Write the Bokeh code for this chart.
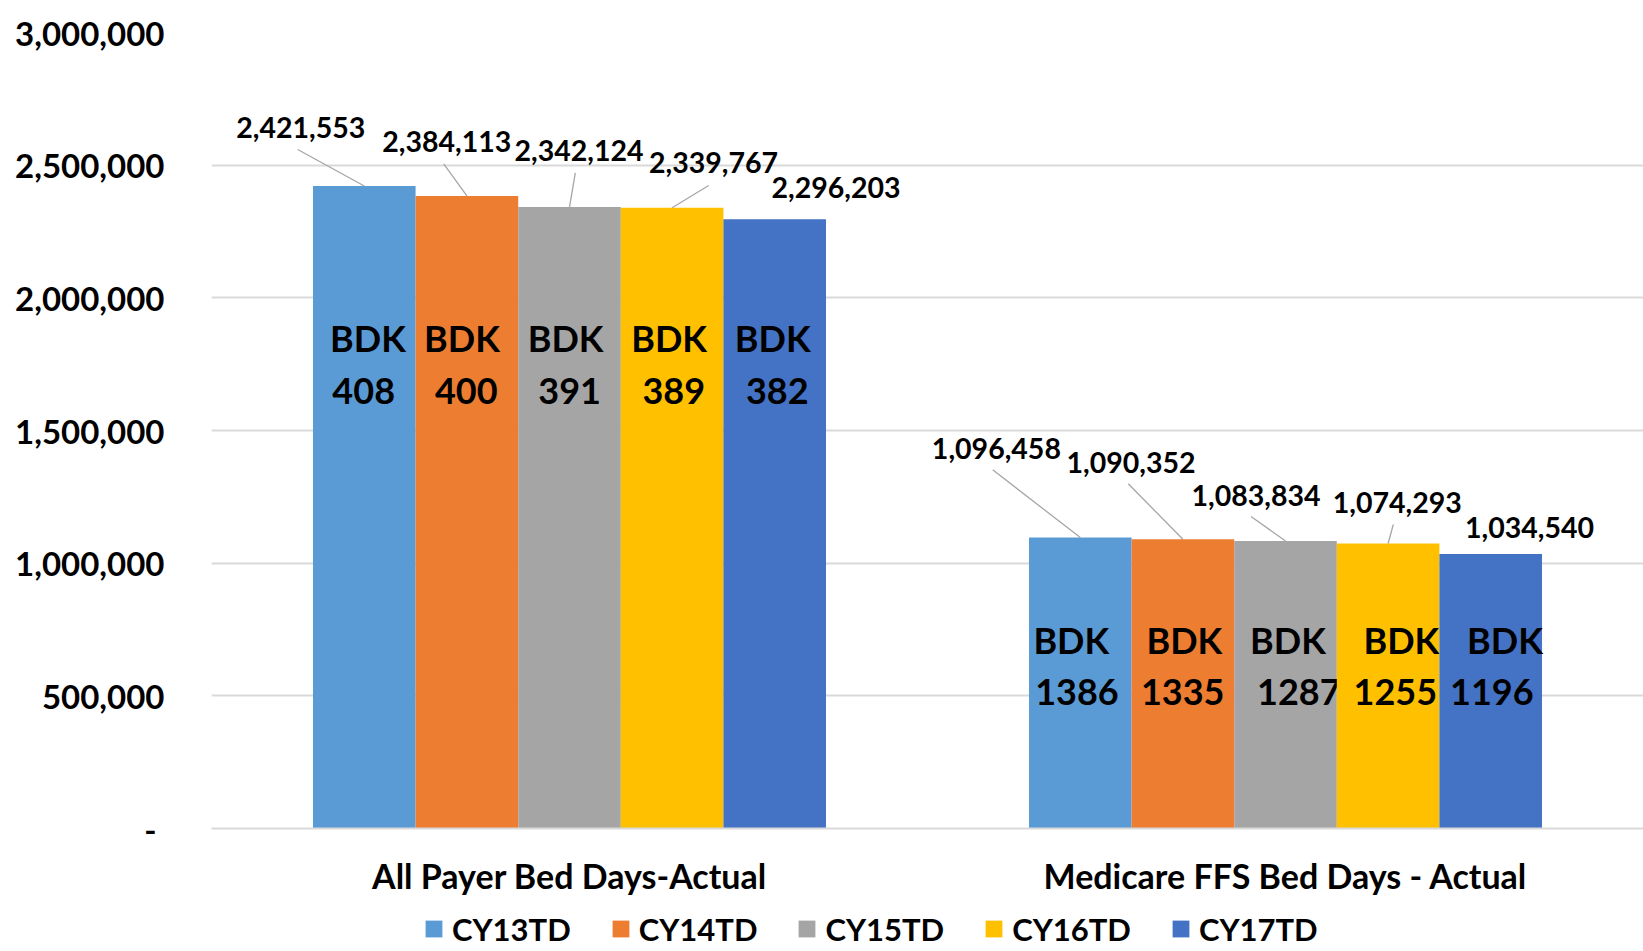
from bokeh.plotting import figure
from bokeh.layouts import column
from bokeh.models import (ColumnDataSource, FactorRange, Range1d, FixedTicker,
                          CustomJSTickFormatter, Legend, LegendItem)
from bokeh.transform import dodge
from bokeh.core.properties import value
from bokeh.embed import file_html
from bokeh.resources import INLINE

# ---------------- data ----------------
categories = ["All Payer Bed Days-Actual", "Medicare FFS Bed Days - Actual"]
series = ["CY13TD", "CY14TD", "CY15TD", "CY16TD", "CY17TD"]
cy13td = [2421553, 1096458]
cy14td = [2384113, 1090352]
cy15td = [2342124, 1083834]
cy16td = [2339767, 1074293]
cy17td = [2296203, 1034540]
bdk13 = [408, 1386]
bdk14 = [400, 1335]
bdk15 = [391, 1287]
bdk16 = [389, 1255]
bdk17 = [382, 1196]
y_ticks = [0, 500000, 1000000, 1500000, 2000000, 2500000, 3000000]

values = [cy13td, cy14td, cy15td, cy16td, cy17td]
bdks = [bdk13, bdk14, bdk15, bdk16, bdk17]

# ---------------- style / layout ----------------
colors = ["#5B9BD5", "#ED7D31", "#A5A5A5", "#FFC000", "#4472C4"]
FONT = "Lato"
W = 1643
H_MAIN, H_LEG = 904, 47
BL, BT = 211, 32
FRAME_H = 796
BB = H_MAIN - BT - FRAME_H
FRAME_W = W - BL
Y_MAX = 3000000
UX = len(categories) / FRAME_W        # x units per pixel
UY = Y_MAX / FRAME_H                  # y units per pixel
BW = 0.1433                           # bar width (category units)

# data-label offsets from bar-top centre in px: [category][series] -> (dx, up)
lbl_off = [
    [(-63.5, 58.8), (-20.1, 54.0), (9.6, 56.5), (41.5, 45.5), (61.4, 32.0)],
    [(-83.9, 88.8), (-51.8, 77.0), (-29.5, 45.4), (9.1, 41.3), (38.9, 26.8)],
]
# leader-line start offsets (px) from bar-top centre; None = no leader
lead_off = [
    [(-66.6, 36.5), (-23.2, 32.0), (5.8, 34.2), (36.6, 22.2), None],
    [(-87.6, 67.8), (-54.7, 55.4), (-34.5, 24.4), (5.2, 19.0), None],
]
# BDK text: vertical pixel heights above baseline for the two lines, per category
bdk_line_px = [(491, 438), (189, 137)]
# horizontal px offsets of the BDK lines from bar centre: [category][series] -> (line1, line2)
bdk_dx = [
    [(3.7, -0.6), (-4.9, -0.6), (-3.9, 0.1), (-3.0, 1.6), (-2.0, 2.6)],
    [(-9.0, -3.4), (1.5, -0.2), (2.5, 13.3), (13.3, 7.2), (14.3, 1.1)],
]

p = figure(x_range=FactorRange(factors=categories, range_padding=0),
           y_range=Range1d(0, Y_MAX),
           width=W, height=H_MAIN, output_backend="svg", toolbar_location=None,
           min_border_left=BL, min_border_right=0, min_border_top=BT,
           min_border_bottom=BB)
p.outline_line_color = None
p.background_fill_color = "white"

for i, s in enumerate(series):
    off = (i - 2) * BW
    src = ColumnDataSource(dict(cat=categories, val=values[i]))
    p.vbar(x=dodge("cat", off, range=p.x_range), top="val", width=BW,
           source=src, fill_color=colors[i], line_color=None)

    # value labels
    lsrc = ColumnDataSource(dict(
        cat=categories, val=values[i],
        txt=[f"{v:,}" for v in values[i]],
        dx=[lbl_off[j][i][0] for j in range(len(categories))],
        dy=[-lbl_off[j][i][1] for j in range(len(categories))],
    ))
    p.text(x=dodge("cat", off, range=p.x_range), y="val", text="txt",
           x_offset="dx", y_offset="dy", source=lsrc,
           text_font=value(FONT), text_font_style="bold",
           text_font_size="28.5px", text_align="center",
           text_baseline="middle", text_color="black")

    # leader lines
    x0s, y0s, x1s, y1s = [], [], [], []
    for j in range(len(categories)):
        lo = lead_off[j][i]
        if lo is None:
            continue
        xc = j + 0.5 + off
        x0s.append(xc + lo[0] * UX)
        y0s.append(values[i][j] + lo[1] * UY)
        x1s.append(xc)
        y1s.append(values[i][j])
    if x0s:
        p.segment(x0=x0s, y0=y0s, x1=x1s, y1=y1s,
                  line_color="#A6A6A6", line_width=1.3)

    # BDK labels
    for line in range(2):
        bsrc = ColumnDataSource(dict(
            cat=categories,
            y=[bdk_line_px[j][line] * UY for j in range(len(categories))],
            txt=["BDK" if line == 0 else str(b) for b in bdks[i]],
            dx=[bdk_dx[j][i][line] for j in range(len(categories))],
        ))
        p.text(x=dodge("cat", off, range=p.x_range), y="y", text="txt",
               x_offset="dx", source=bsrc,
               text_font=value(FONT), text_font_style="bold",
               text_font_size="36px", text_align="center",
               text_baseline="middle", text_color="black")

# axes
p.yaxis.ticker = FixedTicker(ticks=y_ticks)
p.yaxis.formatter = CustomJSTickFormatter(
    code='return tick == 0 ? "-\\u00a0" : tick.toLocaleString("en-US");')
p.yaxis.axis_line_color = None
p.yaxis.major_tick_line_color = None
p.yaxis.minor_tick_line_color = None
p.yaxis.major_label_text_font = FONT
p.yaxis.major_label_text_font_style = "bold"
p.yaxis.major_label_text_font_size = "33px"
p.yaxis.major_label_text_color = "black"
p.yaxis.major_label_standoff = 41

p.xaxis.axis_line_color = "#D9D9D9"
p.xaxis.axis_line_width = 2
p.xaxis.major_tick_line_color = None
p.xaxis.minor_tick_line_color = None
p.xaxis.major_label_text_font = FONT
p.xaxis.major_label_text_font_style = "bold"
p.xaxis.major_label_text_font_size = "34px"
p.xaxis.major_label_text_color = "black"
p.xaxis.major_label_standoff = 20

p.xgrid.grid_line_color = None
p.ygrid.grid_line_color = "#D9D9D9"
p.ygrid.grid_line_width = 2

# ---------------- legend strip ----------------
lg = figure(width=W, height=H_LEG, x_range=Range1d(0, 1), y_range=Range1d(0, 1),
            output_backend="svg", toolbar_location=None,
            x_axis_type=None, y_axis_type=None,
            min_border_left=0, min_border_right=0, min_border_top=0,
            min_border_bottom=0)
lg.outline_line_color = None
lg.xgrid.grid_line_color = None
lg.ygrid.grid_line_color = None
items = []
for i, s in enumerate(series):
    # swatch-only renderer, placed outside the visible range
    r = lg.vbar(x=[-5], top=[-5], width=0.1, fill_color=colors[i], line_color=None)
    items.append(LegendItem(label=s, renderers=[r]))
legend = Legend(
    items=items, orientation="horizontal", location=(212, 3.5),
    glyph_width=21, glyph_height=21, label_standoff=8, spacing=39,
    label_text_font=FONT, label_text_font_style="bold",
    label_text_font_size="31px", label_text_color="black",
    padding=0, margin=0, border_line_color=None, background_fill_alpha=0,
)
lg.add_layout(legend, "center")

layout = column(p, lg, spacing=0)
open("out.html", "w").write(file_html(layout, INLINE))
